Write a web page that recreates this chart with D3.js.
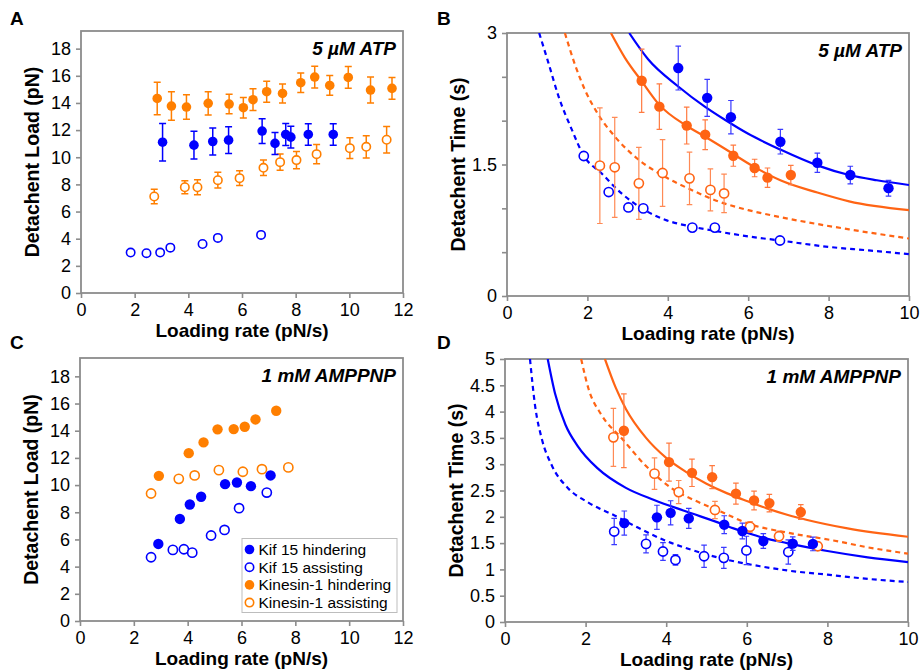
<!DOCTYPE html>
<html>
<head>
<meta charset="utf-8">
<script src="https://cdn.jsdelivr.net/npm/d3@7"></script>
<style>
    body{margin:0;background:#fff;}
    svg text{font-family:"Liberation Sans",Arial,Helvetica,sans-serif;}
</style>
</head>
<body>
<div id="chart"></div>
<script>
// ---- data ----
// [loading rate, value, error]
const atpKif15Hind=[[3.04,11.11,1.38],[4.21,10.89,1.02],[4.91,11.16,1.0],[5.50,11.26,0.98],[6.75,11.93,0.91],[7.23,11.02,0.81],[7.63,11.68,0.81],[7.82,11.48,0.8],[8.47,11.68,0.79],[9.40,11.68,0.79]];
const atpKif15Assist=[[1.85,2.98,0],[2.44,2.93,0],[2.95,2.98,0],[3.33,3.34,0],[4.53,3.61,0],[5.10,4.06,0],[6.71,4.28,0]];
const atpKinHind=[[2.84,14.33,1.2],[3.37,13.77,1.05],[3.93,13.7,0.9],[4.74,13.97,0.85],[5.52,13.92,0.72],[6.05,13.65,0.75],[6.41,14.24,0.8],[6.92,14.83,0.77],[7.51,14.70,0.7],[8.19,15.49,0.72],[8.71,15.91,0.8],[9.27,15.29,0.73],[9.96,15.88,0.8],[10.79,14.95,0.96],[11.59,15.07,0.8]];
const atpKinAssist=[[2.73,7.11,0.53],[3.87,7.79,0.48],[4.34,7.79,0.55],[5.10,8.31,0.58],[5.91,8.46,0.54],[6.80,9.22,0.57],[7.42,9.64,0.6],[8.03,9.79,0.63],[8.78,10.23,0.7],[10.02,10.67,0.76],[10.63,10.77,0.82],[11.39,11.29,0.97]];

const atpTimeKif15Hind=[[4.26,2.60,0.25],[4.98,2.26,0.21],[5.57,2.04,0.19],[6.80,1.76,0.14],[7.72,1.52,0.11],[8.54,1.38,0.10],[9.49,1.23,0.09]];
const atpTimeKif15Assist=[[1.91,1.597,0],[2.53,1.186,0],[3.02,1.01,0],[3.39,0.999,0],[4.61,0.78,0],[5.17,0.78,0],[6.79,0.633,0]];
const atpTimeKinHind=[[3.35,2.455,0.36],[3.79,2.16,0.26],[4.47,1.944,0.21],[4.93,1.84,0.17],[5.63,1.60,0.12],[6.16,1.46,0.10],[6.48,1.35,0.11],[7.06,1.38,0.11]];
const atpTimeKinAssist=[[2.31,1.487,0.66],[2.68,1.468,0.57],[3.28,1.285,0.41],[3.87,1.403,0.38],[4.54,1.342,0.30],[5.06,1.21,0.24],[5.40,1.17,0.22]];
// fitted curves
const atpFitKif15Hind=[[3.04,3.0],[3.51,2.70],[4.26,2.39],[4.92,2.16],[5.42,2.01],[6.0,1.85],[6.8,1.67],[7.72,1.49],[8.51,1.38],[9.2,1.32],[10,1.266]];
const atpFitKif15Assist=[[0.80,3.0],[1.03,2.66],[1.28,2.28],[1.61,1.90],[1.91,1.60],[2.35,1.40],[2.85,1.17],[3.39,0.99],[3.93,0.87],[4.61,0.79],[5.2,0.74],[6.0,0.68],[6.79,0.633],[8.0,0.56],[9.0,0.52],[10,0.477]];
const atpFitKinHind=[[2.585,3.0],[2.93,2.72],[3.35,2.45],[3.79,2.18],[4.47,1.94],[4.92,1.82],[5.42,1.68],[6.16,1.47],[6.8,1.32],[7.72,1.18],[8.51,1.08],[10,0.98]];
const atpFitKinAssist=[[1.44,3.0],[1.69,2.64],[1.94,2.35],[2.23,2.10],[2.68,1.82],[3.26,1.56],[3.93,1.36],[4.59,1.21],[5.25,1.08],[6.0,0.98],[6.8,0.90],[8.51,0.76],[10,0.656]];

// 1 mM AMPPNP
const ampKif15Hind=[[2.91,5.67],[3.71,7.51],[4.08,8.57],[4.50,9.14],[5.39,10.07],[5.83,10.19],[6.35,9.92],[7.08,10.71]];
const ampKif15Assist=[[2.64,4.69],[3.45,5.23],[3.86,5.28],[4.17,5.03],[4.87,6.29],[5.37,6.70],[5.91,8.30],[6.94,9.45]];
const ampKinHind=[[2.93,10.68],[4.04,12.35],[4.59,13.14],[5.11,14.10],[5.71,14.12],[6.12,14.29],[6.52,14.83],[7.29,15.47]];
const ampKinAssist=[[2.64,9.38],[3.67,10.46],[4.26,10.71],[5.16,11.10],[6.05,10.98],[6.76,11.17],[7.74,11.30]];

const ampTimeKif15Hind=[[2.96,1.88,0.23],[3.77,1.99,0.23],[4.11,2.075,0.23],[4.56,1.97,0.19],[5.44,1.85,0.17],[5.89,1.73,0.15],[6.41,1.54,0.14],[7.14,1.49,0.13],[7.64,1.485,0.13]];
const ampTimeKif15Assist=[[2.71,1.72,0.25],[3.50,1.485,0.17],[3.92,1.34,0.17],[4.23,1.18,0.10],[4.94,1.25,0.21],[5.43,1.22,0.20],[5.99,1.36,0.27],[7.03,1.33,0.23]];
const ampTimeKinHind=[[2.95,3.636,0.70],[4.07,3.04,0.36],[4.64,2.836,0.26],[5.14,2.754,0.22],[5.73,2.44,0.20],[6.18,2.31,0.18],[6.56,2.26,0.165],[7.34,2.09,0.14]];
const ampTimeKinAssist=[[2.69,3.51,0.55],[3.71,2.82,0.30],[4.31,2.47,0.22],[5.21,2.13,0.165],[6.08,1.81,0.10],[6.80,1.63,0.10],[7.76,1.44,0.08]];
const ampFitKif15Hind=[[1.06,5.0],[1.24,4.35],[1.5,3.75],[1.8,3.35],[2.3,2.92],[3.0,2.55],[3.7,2.32],[4.5,2.10],[5.4,1.86],[5.67,1.78],[6.0,1.70],[6.41,1.60],[7.0,1.50],[8.0,1.35],[9.0,1.23],[10,1.14]];
const ampFitKif15Assist=[[0.62,5.0],[0.745,4.12],[0.91,3.49],[1.16,2.98],[1.57,2.54],[2.07,2.27],[2.73,2.02],[3.31,1.79],[3.97,1.55],[4.64,1.37],[5.42,1.20],[6.33,1.06],[7.0,0.98],[8.0,0.90],[9.0,0.82],[10,0.76]];
const ampFitKinHind=[[2.48,5.0],[2.75,4.45],[3.0,4.05],[3.5,3.5],[4.0,3.12],[4.5,2.85],[5.0,2.63],[5.5,2.45],[6.0,2.30],[6.5,2.16],[7.0,2.04],[7.5,1.94],[8.5,1.78],[10,1.62]];
const ampFitKinAssist=[[1.89,5.0],[2.07,4.44],[2.40,3.93],[2.90,3.49],[3.48,2.98],[4.14,2.54],[4.80,2.28],[5.38,2.09],[6.04,1.87],[7.0,1.70],[8.15,1.55],[9.0,1.42],[10,1.30]];

// axes
const loadRateTicks=[0,2,4,6,8,10,12];
const timeRateTicks=[0,2,4,6,8,10];
const loadTicks=[0,2,4,6,8,10,12,14,16,18];
const atpTimeTicks=[0,0.5,1,1.5,2,2.5,3];
const atpTimeLabels=[0,1.5,3];
const ampTimeTicks=[0,0.5,1,1.5,2,2.5,3,3.5,4,4.5,5];

const legendLabels=["Kif 15 hindering","Kif 15 assisting","Kinesin-1 hindering","Kinesin-1 assisting"];

const BLUE="#0000ff";
const ORANGE="#ff7f00";
const ORANGE_RED="#ff6414";
const AXIS="#8c8c8c";

const svg=d3.select("#chart").append("svg")
    .attr("width",921)
    .attr("height",671);

class PanelD3 {
    constructor(svg,cfg){
        this.svg=svg;
        this.cfg=cfg;
    }

    create(){
        const c=this.cfg;
        this.g=this.svg.append("g").attr("class","panel"+c.letter);
        this.xScale=d3.scaleLinear().domain(c.xDomain).range([c.left,c.right]);
        this.yScale=d3.scaleLinear().domain(c.yDomain).range([c.bottom,c.top]);

        this.g.append("clipPath").attr("id","clip"+c.letter)
            .append("rect")
            .attr("x",c.left).attr("y",c.top)
            .attr("width",c.right-c.left).attr("height",c.bottom-c.top);

        // frame
        this.g.append("rect")
            .attr("x",c.left).attr("y",c.top)
            .attr("width",c.right-c.left).attr("height",c.bottom-c.top)
            .attr("fill","none").attr("stroke",AXIS).attr("stroke-width",1.8);

        const xAxis=d3.axisBottom(this.xScale).tickValues(c.xTicks).tickSize(5).tickSizeOuter(0).tickPadding(5);
        const yAxis=d3.axisLeft(this.yScale).tickValues(c.yTicks).tickSize(5).tickSizeOuter(0).tickPadding(5)
            .tickFormat(c.yFormat||(d=>d));

        const xg=this.g.append("g").attr("transform","translate(0,"+c.bottom+")").call(xAxis);
        const yg=this.g.append("g").attr("transform","translate("+c.left+",0)").call(yAxis);
        [xg,yg].forEach(ax=>{
            ax.select(".domain").remove();
            ax.selectAll(".tick line").attr("stroke",AXIS).attr("stroke-width",1.6);
            ax.selectAll(".tick text").attr("fill","#000").style("font-size","18px")
                .style("font-family","'Liberation Sans',Arial,sans-serif");
        });

        this.g.append("text")
            .attr("x",(c.left+c.right)/2).attr("y",c.bottom+44)
            .attr("text-anchor","middle")
            .style("font-size","19px").style("font-weight","bold")
            .text(c.xTitle);
        this.g.append("text")
            .attr("transform","translate("+(c.left-42)+","+((c.top+c.bottom)/2)+") rotate(-90)")
            .attr("text-anchor","middle")
            .style("font-size","19.5px").style("font-weight","bold")
            .text(c.yTitle);
        this.g.append("text")
            .attr("x",c.right-7).attr("y",c.top+24)
            .attr("text-anchor","end")
            .style("font-size","19px").style("font-weight","bold").style("font-style","italic")
            .text(c.note);
        this.g.append("text")
            .attr("x",c.letterX).attr("y",c.letterY)
            .style("font-size","19px").style("font-weight","bold")
            .text(c.letter);

        this.curveG=this.g.append("g").attr("clip-path","url(#clip"+c.letter+")");
        this.markG=this.g.append("g");
    }

    renderCurve(points,color,dashed){
        const line=d3.line()
            .x(d=>this.xScale(d[0]))
            .y(d=>this.yScale(d[1]))
            .curve(d3.curveMonotoneX);
        this.curveG.append("path")
            .datum(points)
            .attr("d",line)
            .attr("fill","none")
            .attr("stroke",color)
            .attr("stroke-width",2.2)
            .attr("stroke-dasharray",dashed?"5,4":null);
    }

    renderSeries(data,color,filled,opts){
        const o=Object.assign({r:4.8,cap:3.5,errWidth:1.5,errColor:color},opts||{});
        const itemG=this.markG.append("g").selectAll(".dotG")
            .data(data)
            .join("g")
            .attr("class","dotG")
            .attr("transform",d=>"translate("+this.xScale(d[0])+",0)");

        const withErr=itemG.filter(d=>d.length>2&&d[2]>0);
        withErr.append("path")
            .attr("d",d=>{
                const y1=this.yScale(d[1]+d[2]);
                const y2=this.yScale(d[1]-d[2]);
                return "M0,"+y1+"V"+y2+"M"+(-o.cap)+","+y1+"H"+o.cap+"M"+(-o.cap)+","+y2+"H"+o.cap;
            })
            .attr("fill","none")
            .attr("stroke",o.errColor)
            .attr("stroke-width",o.errWidth);

        itemG.append("circle")
            .attr("class","dotCircle")
            .attr("cy",d=>this.yScale(d[1]))
            .attr("r",filled?o.r:o.r-0.6)
            .attr("fill",filled?color:"#fff")
            .attr("stroke",color)
            .attr("stroke-width",filled?0:1.6);
    }
}

// A
const panelA=new PanelD3(svg,{letter:"A",letterX:10,letterY:25,left:81,right:403,top:31,bottom:293,
    xDomain:[0,12],yDomain:[0,19.3],xTicks:loadRateTicks,yTicks:loadTicks,
    xTitle:"Loading rate (pN/s)",yTitle:"Detachent Load (pN)",note:"5 µM ATP"});
panelA.create();
panelA.renderSeries(atpKinHind,ORANGE,true);
panelA.renderSeries(atpKinAssist,ORANGE,false);
panelA.renderSeries(atpKif15Hind,BLUE,true);
panelA.renderSeries(atpKif15Assist,BLUE,false);

// B
const panelB=new PanelD3(svg,{letter:"B",letterX:437,letterY:25,left:507,right:909,top:33,bottom:296,
    xDomain:[0,10],yDomain:[0,3],xTicks:timeRateTicks,yTicks:atpTimeTicks,
    yFormat:d=>atpTimeLabels.includes(d)?d:"",
    xTitle:"Loading rate (pN/s)",yTitle:"Detachent Time (s)",note:"5 µM ATP"});
panelB.create();
panelB.renderCurve(atpFitKinAssist,ORANGE_RED,true);
panelB.renderCurve(atpFitKif15Assist,BLUE,true);
panelB.renderCurve(atpFitKinHind,ORANGE_RED,false);
panelB.renderCurve(atpFitKif15Hind,BLUE,false);
const bOpts={r:5.2,cap:2.8,errWidth:1.2};
panelB.renderSeries(atpTimeKinAssist,ORANGE_RED,false,Object.assign({errColor:"#ff8a55"},bOpts));
panelB.renderSeries(atpTimeKinHind,ORANGE_RED,true,Object.assign({errColor:"#ff7a40"},bOpts));
panelB.renderSeries(atpTimeKif15Assist,BLUE,false,bOpts);
panelB.renderSeries(atpTimeKif15Hind,BLUE,true,Object.assign({errColor:"#3a3aff"},bOpts));

// C
const panelC=new PanelD3(svg,{letter:"C",letterX:10,letterY:349,left:80,right:403,top:358,bottom:621,
    xDomain:[0,12],yDomain:[0,19.35],xTicks:loadRateTicks,yTicks:loadTicks,
    xTitle:"Loading rate (pN/s)",yTitle:"Detachent Load (pN)",note:"1 mM AMPPNP"});
panelC.create();
panelC.renderSeries(ampKinHind,ORANGE,true,{r:5.2});
panelC.renderSeries(ampKinAssist,ORANGE,false,{r:5.2});
panelC.renderSeries(ampKif15Hind,BLUE,true,{r:5.2});
panelC.renderSeries(ampKif15Assist,BLUE,false,{r:5.2});

// legend
const legendColors=[BLUE,BLUE,ORANGE,ORANGE];
const legendFilled=[true,false,true,false];
const legG=svg.append("g").attr("class","legend");
legG.append("rect")
    .attr("x",242).attr("y",538.5).attr("width",155).attr("height",74)
    .attr("fill","#fff").attr("stroke","#bdbdbd").attr("stroke-width",1);
const legItem=legG.selectAll(".legItem")
    .data(legendLabels)
    .join("g")
    .attr("class","legItem")
    .attr("transform",(d,i)=>"translate(249.5,"+(549.5+i*17.7)+")");
legItem.append("circle")
    .attr("r",(d,i)=>legendFilled[i]?4.8:4.2)
    .attr("fill",(d,i)=>legendFilled[i]?legendColors[i]:"#fff")
    .attr("stroke",(d,i)=>legendColors[i])
    .attr("stroke-width",(d,i)=>legendFilled[i]?0:1.6);
legItem.append("text")
    .attr("x",9).attr("y",5.5)
    .style("font-size","15.5px")
    .text(d=>d);

// D
const panelD=new PanelD3(svg,{letter:"D",letterX:437,letterY:349,left:505,right:908,top:359,bottom:622,
    xDomain:[0,10],yDomain:[0,5],xTicks:timeRateTicks,yTicks:ampTimeTicks,
    xTitle:"Loading rate (pN/s)",yTitle:"Detachent Time (s)",note:"1 mM AMPPNP"});
panelD.create();
panelD.renderCurve(ampFitKif15Assist,BLUE,true);
panelD.renderCurve(ampFitKinAssist,ORANGE_RED,true);
panelD.renderCurve(ampFitKif15Hind,BLUE,false);
panelD.renderCurve(ampFitKinHind,ORANGE_RED,false);
const dOpts={r:5.2,cap:2.8,errWidth:1.2};
panelD.renderSeries(ampTimeKinAssist,ORANGE_RED,false,Object.assign({errColor:"#ff8a55"},dOpts));
panelD.renderSeries(ampTimeKinHind,ORANGE_RED,true,Object.assign({errColor:"#ff7a40"},dOpts));
panelD.renderSeries(ampTimeKif15Assist,BLUE,false,Object.assign({errColor:"#3a3aff"},dOpts));
panelD.renderSeries(ampTimeKif15Hind,BLUE,true,Object.assign({errColor:"#3a3aff"},dOpts));
</script>
</body>
</html>
